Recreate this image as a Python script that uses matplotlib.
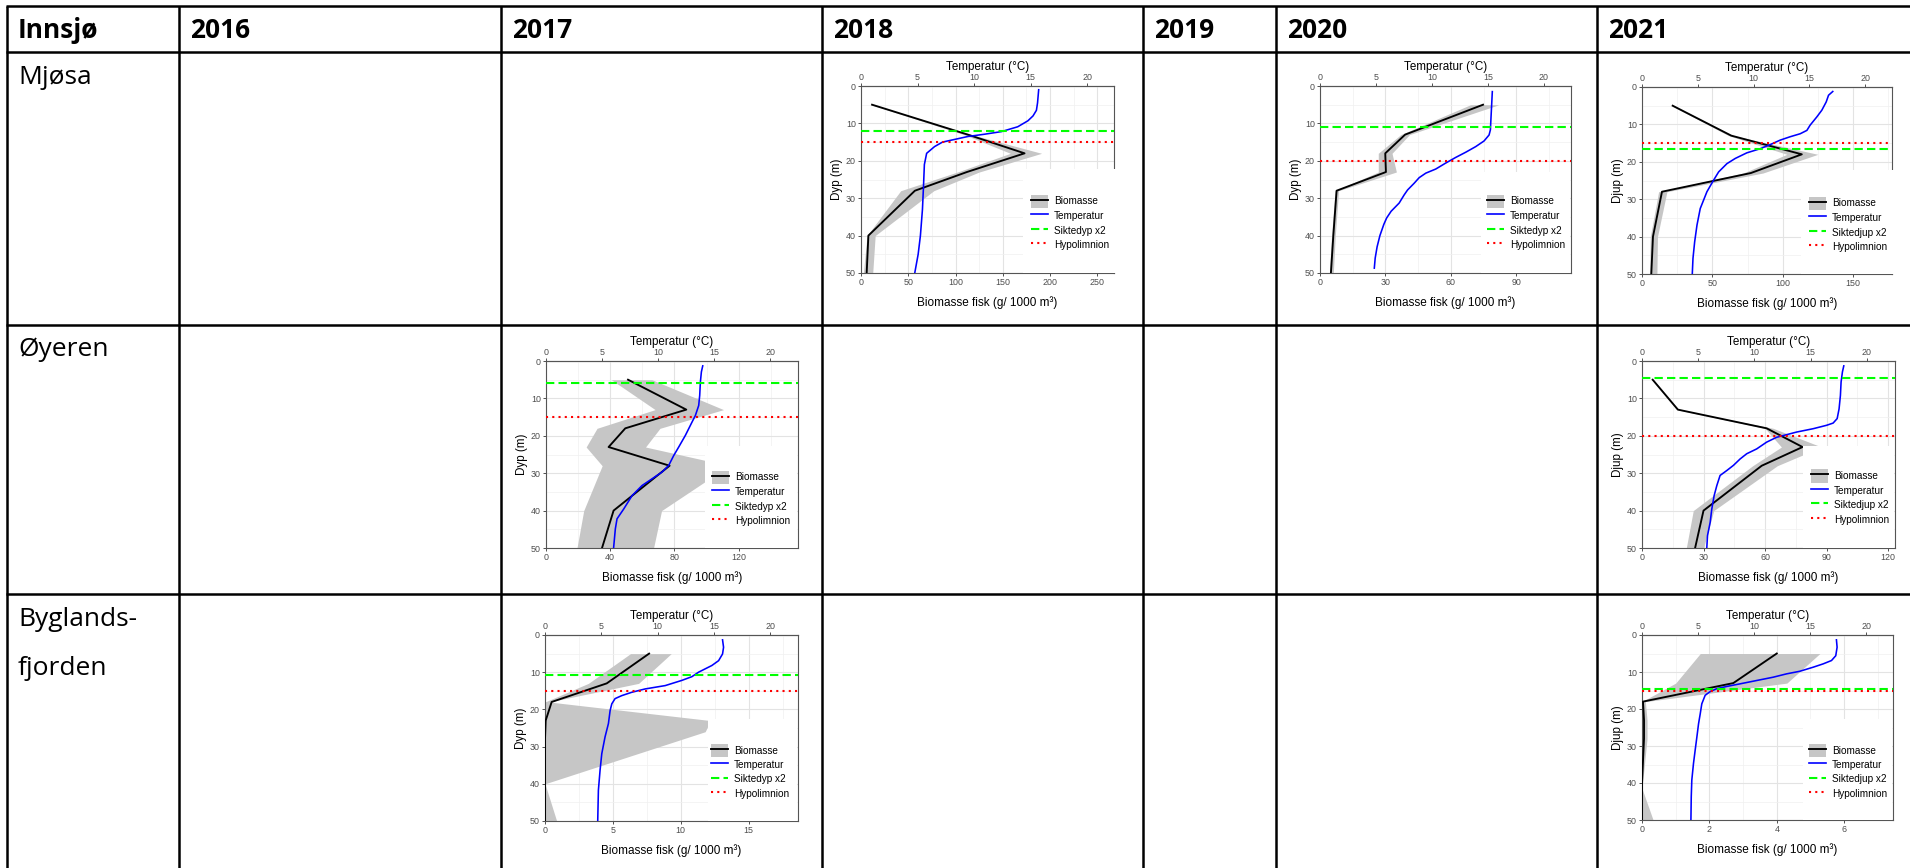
import matplotlib
matplotlib.use("Agg")
import numpy as np
import matplotlib.pyplot as plt
from matplotlib.patches import Patch, Rectangle
from matplotlib.lines import Line2D
from matplotlib.legend_handler import HandlerTuple

plt.rcParams["font.family"] = ["Liberation Sans", "DejaVu Sans"]

W, H = 1910, 868

# ---------------- table content ----------------
header = ["Innsjø", "2016", "2017", "2018", "2019", "2020", "2021"]
lakes = ["Mjøsa", "Øyeren", "Byglands-", "fjorden"]

# ---------------- depth profiles ----------------
bio_depth = [5, 13, 18, 23, 28, 40, 50]
depth_ticks = [0, 10, 20, 30, 40, 50]
temp_ticks = [0, 5, 10, 15, 20]

# Mjøsa 2018
mj18_bio = [11.7, 113, 173, 112, 57, 7.8, 6.0]
mj18_rib_depth = [5, 13, 18, 23, 28, 40, 50]
mj18_lo = [10.5, 109, 158, 102, 42, 6.4, 2.5]
mj18_hi = [13, 117, 191, 125, 77, 15, 12.4]
mj18_tdep = [1, 4.5, 6.5, 8, 9.3, 10.9, 12.2, 12.9, 13.5, 14.4, 15.0, 16.2, 18.0, 21, 27, 33, 40, 45, 50]
mj18_temp = [15.7, 15.6, 15.5, 15.2, 14.75, 13.85, 12.4, 10.9, 9.45, 8.1, 7.2, 6.5, 5.8, 5.6, 5.52, 5.43, 5.25, 5.05, 4.75]
mj18_secchi2, mj18_hypo = 11.9, 14.9

# Mjøsa 2020
mj20_bio = [74.7, 39.0, 29.9, 30.2, 7.6, 6.1, 5.0]
mj20_rib_depth = [5, 13, 18, 23, 28, 40, 50]
mj20_lo = [69, 37, 26.7, 26.7, 6.9, 5.3, 4.3]
mj20_hi = [82, 41, 33, 35, 8.5, 7.0, 6.1]
mj20_tdep = [1.5, 5.1, 8.6, 11.7, 13.1, 14.7, 16.2, 17.7, 19.1, 20.6, 22.2, 23.3, 24.5, 26.0, 27.8, 29.1, 31.3, 33.5, 35.3, 37, 40, 43, 46, 48.7]
mj20_temp = [15.39, 15.33, 15.27, 15.22, 15.10, 14.65, 13.91, 13.02, 12.12, 11.23, 10.34, 9.45, 8.86, 8.41, 7.82, 7.52, 7.07, 6.35, 5.95, 5.7, 5.35, 5.1, 4.93, 4.85]
mj20_secchi2, mj20_hypo = 10.9, 20.0

# Mjøsa 2021
mj21_bio = [21.8, 63.4, 113.6, 77.4, 14.2, 7.8, 6.6]
mj21_rib_depth = [5, 13, 18, 23, 28, 40, 50]
mj21_lo = [21, 61.5, 103, 72, 11.8, 5.9, 5.4]
mj21_hi = [22.6, 65, 125, 86, 17.7, 11, 10.6]
mj21_tdep = [1.2, 2.2, 4.0, 6.2, 8.0, 10.2, 11.6, 12.5, 13.3, 14.2, 15.4, 16.5, 17.6, 19.1, 20.5, 22.7, 24.9, 28.0, 32.5, 36.9, 41.4, 45.8, 49.8]
mj21_temp = [17.10, 16.72, 16.51, 16.12, 15.67, 15.07, 14.78, 14.18, 13.28, 12.39, 11.49, 10.60, 9.40, 8.36, 7.61, 6.87, 6.42, 5.82, 5.22, 4.93, 4.72, 4.57, 4.51]
mj21_secchi2, mj21_hypo = 16.5, 15.0

# Øyeren 2017
oy17_bio = [51.1, 87.4, 49.4, 39.0, 77.0, 42.1, 34.9]
oy17_rib_depth = [5, 13, 18, 23, 28, 40, 50]
oy17_lo = [40.7, 68, 31.8, 25, 35, 23.5, 19.3]
oy17_hi = [66, 110.6, 71, 62, 114, 72, 67]
oy17_tdep = [1.3, 2.9, 5.6, 9.2, 11.9, 14.6, 16.3, 19.9, 23.0, 25.3, 27.9, 29.7, 31.5, 33.3, 36.0, 39.6, 42.2, 44.9, 49.8]
oy17_temp = [13.97, 13.85, 13.76, 13.70, 13.61, 13.31, 13.02, 12.42, 11.83, 11.38, 10.94, 10.34, 9.45, 8.56, 7.67, 6.92, 6.33, 6.18, 6.03]
oy17_secchi2, oy17_hypo = 5.9, 15.0

# Øyeren 2021
oy21_bio = [5.2, 17.5, 60.8, 78.3, 58.4, 30.0, 25.9]
oy21_rib_depth = [5, 13, 18, 23, 28, 40, 50]
oy21_lo = [4.8, 17.0, 60, 68, 54, 25, 21.6]
oy21_hi = [5.6, 18, 64, 87.6, 66, 35, 30]
oy21_tdep = [1.3, 2.9, 5.6, 9.2, 12.8, 15.4, 16.6, 17.2, 18.1, 19.0, 19.7, 20.4, 21.7, 23.5, 24.8, 26.2, 27.9, 29.3, 30.6, 33.3, 36.0, 39.6, 43.1, 46.7, 49.8]
oy21_temp = [17.96, 17.84, 17.72, 17.66, 17.54, 17.37, 17.01, 16.42, 15.24, 13.76, 12.87, 11.98, 11.09, 10.21, 9.32, 8.73, 8.14, 7.54, 6.95, 6.66, 6.42, 6.21, 6.07, 5.83, 5.77]
oy21_secchi2, oy21_hypo = 4.5, 20.0

# Byglandsfjorden 2017
by17_bio = [7.67, 4.55, 0.49, 0.05, 0, 0, 0]
by17_rib_depth = [5, 13, 18, 23, 26, 40, 50]
by17_lo = [6.3, 3.2, 0, 0, 0, 0, 0]
by17_hi = [9.3, 6.9, 0.3, 12.2, 11.8, 0, 0.86]
by17_tdep = [1.3, 3.3, 5.1, 6.9, 8.2, 9.1, 10.0, 11.2, 12.2, 13.6, 14.5, 15.4, 16.3, 17.1, 18.5, 20.3, 23.8, 27.4, 31.9, 36.3, 41.7, 50]
by17_temp = [15.76, 15.85, 15.76, 15.41, 14.81, 14.22, 13.63, 13.04, 12.15, 10.67, 8.89, 7.70, 6.81, 6.22, 5.93, 5.78, 5.63, 5.33, 5.04, 4.89, 4.74, 4.68]
by17_secchi2, by17_hypo = 10.7, 15.0

# Byglandsfjorden 2021
by21_bio = [4.0, 2.71, 0.03, 0.06, 0.06, 0, 0]
by21_rib_depth = [5, 13, 18, 23, 28, 41.5, 50]
by21_lo = [1.73, 1.0, 0, 0, 0, 0, 0]
by21_hi = [5.28, 4.3, 0.1, 0.15, 0.15, 0, 0.33]
by21_tdep = [1.3, 3.3, 5.6, 6.9, 7.8, 8.7, 9.8, 10.5, 11.4, 12.3, 13.2, 13.9, 14.5, 15.3, 16.3, 18.6, 21.3, 24.0, 27.6, 31.1, 34.7, 39.2, 43.7, 50]
by21_temp = [17.33, 17.39, 17.27, 16.89, 16.15, 15.26, 14.07, 12.89, 11.70, 10.22, 8.74, 7.56, 6.67, 6.07, 5.63, 5.33, 5.19, 5.04, 4.89, 4.74, 4.59, 4.44, 4.39, 4.36]
by21_secchi2, by21_hypo = 14.7, 15.0

# axis scaling: biomass axis upper limit, temperature -> biomass factor, biomass ticks
mj18_axis = (267.6, 11.97, [0, 50, 100, 150, 200, 250])
mj20_axis = (115.0, 5.13, [0, 30, 60, 90])
mj21_axis = (177.7, 7.93, [0, 50, 100, 150])
oy17_axis = (157.0, 6.99, [0, 40, 80, 120])
oy21_axis = (123.4, 5.48, [0, 30, 60, 90, 120])
by17_axis = (18.64, 0.83, [0, 5, 10, 15])
by21_axis = (7.45, 0.333, [0, 2, 4, 6])

panels = [
    dict(bio=mj18_bio, rd=mj18_rib_depth, lo=mj18_lo, hi=mj18_hi, td=mj18_tdep, t=mj18_temp,
         s=mj18_secchi2, h=mj18_hypo, axis=mj18_axis, nyn=False,
         rect=(861, 86, 1114, 273), key=(1031, 203), box=(1023, 169, 1118, 273)),
    dict(bio=mj20_bio, rd=mj20_rib_depth, lo=mj20_lo, hi=mj20_hi, td=mj20_tdep, t=mj20_temp,
         s=mj20_secchi2, h=mj20_hypo, axis=mj20_axis, nyn=False,
         rect=(1320, 86, 1571, 273), key=(1487, 203), box=(1481, 172, 1570, 273)),
    dict(bio=mj21_bio, rd=mj21_rib_depth, lo=mj21_lo, hi=mj21_hi, td=mj21_tdep, t=mj21_temp,
         s=mj21_secchi2, h=mj21_hypo, axis=mj21_axis, nyn=True,
         rect=(1642, 87, 1892, 274), key=(1809, 205), box=(1801, 170, 1896, 274)),
    dict(bio=oy17_bio, rd=oy17_rib_depth, lo=oy17_lo, hi=oy17_hi, td=oy17_tdep, t=oy17_temp,
         s=oy17_secchi2, h=oy17_hypo, axis=oy17_axis, nyn=False,
         rect=(546, 361, 798, 548), key=(712, 479), box=(705, 446, 797, 548)),
    dict(bio=oy21_bio, rd=oy21_rib_depth, lo=oy21_lo, hi=oy21_hi, td=oy21_tdep, t=oy21_temp,
         s=oy21_secchi2, h=oy21_hypo, axis=oy21_axis, nyn=True,
         rect=(1642, 361, 1895, 548), key=(1811, 478), box=(1803, 446, 1894, 548)),
    dict(bio=by17_bio, rd=by17_rib_depth, lo=by17_lo, hi=by17_hi, td=by17_tdep, t=by17_temp,
         s=by17_secchi2, h=by17_hypo, axis=by17_axis, nyn=False,
         rect=(545, 635, 798, 821), key=(711, 752), box=(708, 719, 797, 821)),
    dict(bio=by21_bio, rd=by21_rib_depth, lo=by21_lo, hi=by21_hi, td=by21_tdep, t=by21_temp,
         s=by21_secchi2, h=by21_hypo, axis=by21_axis, nyn=True,
         rect=(1642, 635, 1893, 820), key=(1809, 752), box=(1803, 719, 1892, 820)),
]

RIBBON = "#C6C6C6"
GREEN = "#00FF00"
RED = "#FF0000"
BLUE = "#0000FF"

fig = plt.figure(figsize=(W / 100, H / 100), dpi=100)
fig.patch.set_facecolor("white")


def fx(x):
    return x / W


def fy(y):
    return 1 - y / H


# ---------------- table grid and text ----------------
bg = fig.add_axes([0, 0, 1, 1])
bg.set_xlim(0, W)
bg.set_ylim(H, 0)
bg.axis("off")

col_x = [7, 179, 501, 822, 1143, 1276, 1597]
row_y = [6, 52, 325, 594]
for x in col_x:
    bg.plot([x, x], [row_y[0], H], color="black", lw=1.8, solid_capstyle="butt")
for y in row_y:
    bg.plot([col_x[0] - 1, W], [y, y], color="black", lw=1.8, solid_capstyle="butt")

for x, label in zip(col_x, header):
    bg.text(x + 11, 38, label, fontsize=19, fontweight="bold", family="Open Sans",
            va="baseline", ha="left")
for yb, label in zip([84, 356, 626, 675], lakes):
    bg.text(18, yb, label, fontsize=19, family="Open Sans", va="baseline", ha="left")


# ---------------- profile plots ----------------
def draw_profile(p):
    x0, y0, x1, y1 = p["rect"]
    ax = fig.add_axes([fx(x0), fy(y1), (x1 - x0) / W, (y1 - y0) / H])
    xmax, k, xticks = p["axis"]
    ax.set_xlim(0, xmax)
    ax.set_ylim(50, 0)

    ax.fill_betweenx(p["rd"], p["lo"], p["hi"], color=RIBBON, lw=0, zorder=2)
    ax.plot(p["bio"], bio_depth, color="black", lw=1.35, zorder=3)
    ax.plot(np.asarray(p["t"]) * k, p["td"], color=BLUE, lw=1.15, zorder=3)
    ax.axhline(p["s"], color=GREEN, lw=1.5, ls=(0, (4, 2)), zorder=3)
    ax.axhline(p["h"], color=RED, lw=1.5, ls=(0, (1, 2)), zorder=3)

    step = xticks[1] - xticks[0]
    ax.set_xticks(xticks)
    ax.set_xticks(np.arange(step / 2, xmax, step), minor=True)
    ax.set_yticks(depth_ticks)
    ax.set_yticks([5, 15, 25, 35, 45], minor=True)
    ax.grid(which="major", color="#E3E3E3", lw=0.8)
    ax.grid(which="minor", color="#F0F0F0", lw=0.5)
    ax.set_axisbelow(True)
    ax.tick_params(which="minor", length=0)
    ax.tick_params(which="major", length=2.2, width=0.6, color="#333333",
                   labelsize=6.4, labelcolor="#4D4D4D", pad=1.5)
    for sp in ax.spines.values():
        sp.set_color("#555555")
        sp.set_linewidth(0.8)

    ax.set_xlabel("Biomasse fisk (g/ 1000 m³)", fontsize=8.5, labelpad=6.5)
    ax.set_ylabel("Djup (m)" if p["nyn"] else "Dyp (m)", fontsize=8.4, labelpad=2)

    sec = ax.secondary_xaxis("top", functions=(lambda b, k=k: b / k, lambda t, k=k: t * k))
    sec.set_xticks(temp_ticks)
    sec.tick_params(length=2.2, width=0.6, color="#333333", labelsize=6.4,
                    labelcolor="#4D4D4D", pad=1.0)
    sec.spines["top"].set_color("#555555")
    sec.spines["top"].set_linewidth(0.8)
    sec.set_xlabel("Temperatur (°C)", fontsize=8.4, labelpad=2)

    # legend background box
    bx0, by0, bx1, by1 = p["box"]
    ax.add_artist(Rectangle((fx(bx0), fy(by1)), (bx1 - bx0) / W, (by1 - by0) / H,
                            transform=fig.transFigure, facecolor="white", edgecolor="none",
                            zorder=4, clip_on=False))

    handles = [
        (Patch(facecolor=RIBBON, edgecolor="none"), Line2D([], [], color="black", lw=1.35)),
        Line2D([], [], color=BLUE, lw=1.2),
        Line2D([], [], color=GREEN, lw=1.5, ls=(0, (4, 2))),
        Line2D([], [], color=RED, lw=1.5, ls=(0, (1, 2))),
    ]
    labels = ["Biomasse", "Temperatur",
              "Siktedjup x2" if p["nyn"] else "Siktedyp x2", "Hypolimnion"]
    kx, ky = p["key"]
    leg = ax.legend(handles, labels, handler_map={tuple: HandlerTuple(ndivide=1, pad=0)},
                    loc="upper left", bbox_to_anchor=(fx(kx), fy(ky - 8.5)),
                    bbox_transform=fig.transFigure, frameon=False, fontsize=7.2,
                    handlelength=1.65, handleheight=1.7, handletextpad=0.65,
                    labelspacing=0.1, borderpad=0, borderaxespad=0)
    leg.set_zorder(5)


for p in panels:
    draw_profile(p)

fig.savefig("out.png", dpi=100, facecolor="white")
